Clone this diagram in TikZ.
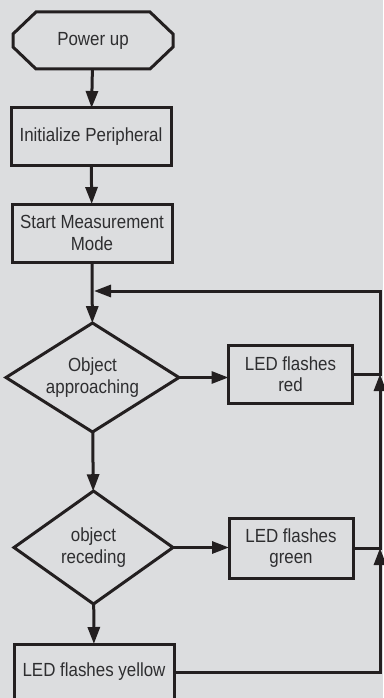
\documentclass[tikz,border=0pt]{standalone}
\usepackage{fontspec}
\setmainfont{Liberation Sans}[FakeStretch=0.89]
\usetikzlibrary{arrows.meta, shapes.geometric}
\definecolor{paper}{HTML}{DCDDDF}
\definecolor{ink}{HTML}{231F20}
\definecolor{txt}{HTML}{2E2E30}

\begin{document}
\begin{tikzpicture}[x=1pt, y=-1pt, line width=3pt, color=ink,
    every node/.style={font=\fontsize{19}{21.3}\selectfont, text=txt, align=center, inner sep=0pt, outer sep=0pt},
    startbox/.style={rectangle, minimum width=160pt, minimum height=57pt},
    stepbox/.style={draw=ink, rectangle, minimum width=160pt, minimum height=57pt},
    ledbox/.style={draw=ink, rectangle, minimum width=124pt, minimum height=58pt},
    testbox/.style={draw=ink, diamond, aspect=1.6},
    flow/.style={-{Triangle[length=17pt,width=12pt]}}]
  \useasboundingbox (0,0) rectangle (383,698);
  \fill[paper] (0,0) rectangle (383,698);
  % main column
  \node[startbox] (power) at (93,40.5) {Power up};
  \draw (power.west) ++(0,-6.5) -- ([xshift=23pt]power.north west) -- ([xshift=-23pt]power.north east)
    -- ++(23,22) -- ++(0,13) -- ([xshift=-23pt]power.south east) -- ([xshift=23pt]power.south west)
    -- ++(-23,-22) -- cycle;
  \node[stepbox] (init) at (91,136.5) {Initialize Peripheral};
  \node[stepbox, minimum height=58pt] (measure) at (92,233) {Start Measurement\\Mode};
  \node[testbox, minimum width=173pt, minimum height=109pt] (approach) at (92.5,377.5) {Object\\approaching};
  \node[testbox, minimum width=159pt, minimum height=113pt] (recede) at (93.5,547.5) {object\\receding};
  \node[stepbox, minimum height=56pt] (yellow) at (94,672) {LED flashes yellow};
  % LED boxes
  \node[ledbox] (red) at (290.5,374) {LED flashes\\red};
  \node[ledbox, minimum height=60pt] (green) at (291,548) {LED flashes\\green};
  % return rail
  \coordinate (rail) at (380,0);
  \coordinate (join) at (94,291);
  \draw[flow] (power) -- (init);
  \draw[flow] (init) -- (measure);
  \draw[flow] (measure) -- (approach);
  \draw[flow] (approach) -- (recede);
  \draw[flow] (recede) -- (yellow);
  \draw[flow] (approach.east) -- (approach.east -| red.west);
  \draw[flow] (recede.east) -- (recede.east -| green.west);
  \draw[flow] (yellow.east) -| (green.east -| rail);
  \draw[flow] (green.east) -| (red.east -| rail);
  \draw[flow] (red.east) -| (rail |- join) -- (join);
\end{tikzpicture}
\end{document}
